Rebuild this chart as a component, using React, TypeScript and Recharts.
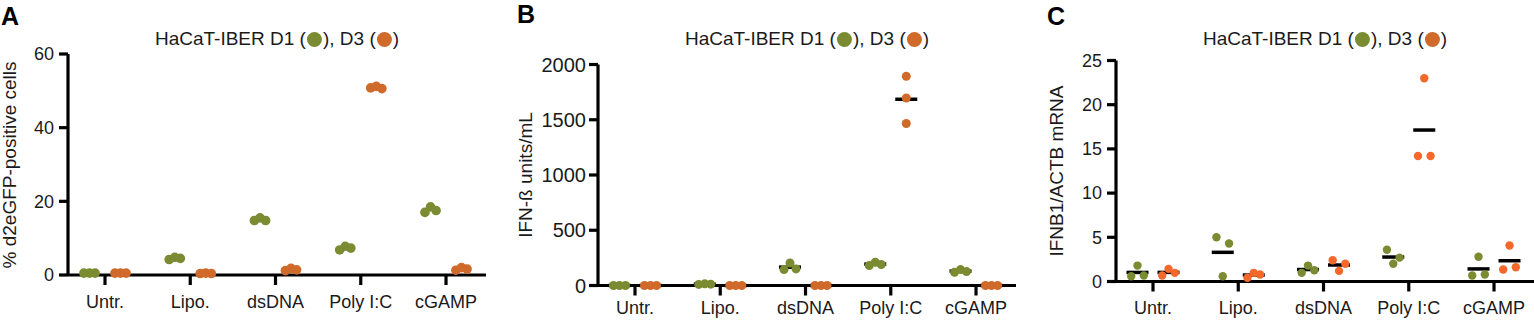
import React from 'react'
import { ScatterChart, Scatter, XAxis, YAxis, ReferenceLine } from 'recharts'

const FONT = '"Liberation Sans", Arial, Helvetica, sans-serif'
const GREEN = '#7b8b32'
const ORANGE = '#cf6a2b'
const ORANGE_C = '#f4692b'
const INK = '#1a1a1a'

const categories = ['Untr.', 'Lipo.', 'dsDNA', 'Poly I:C', 'cGAMP']

// A: % d2eGFP-positive cells (3 replicates per treatment)
const gfpD1 = [[0.5, 0.5, 0.5], [4.2, 4.8, 4.5], [14.8, 15.5, 14.8], [6.8, 7.8, 7.3], [17.0, 18.5, 17.5]]
const gfpD3 = [[0.5, 0.5, 0.5], [0.4, 0.5, 0.4], [1.2, 1.8, 1.4], [50.8, 51.2, 50.6], [1.3, 2.0, 1.6]]
const gfpTicks = [0, 20, 40, 60]

// B: IFN-ß units/mL
const ifnD1 = [[0, 0, 0], [10, 15, 12], [144, 204, 150], [180, 210, 190], [120, 144, 126]]
const ifnD3 = [[0, 0, 0], [0, 0, 0], [0, 0, 0], [1893, 1697, 1466], [0, 0, 0]]
const ifnTicks = [0, 500, 1000, 1500, 2000]

// C: IFNB1/ACTB mRNA
const mrnaD1 = [[0.6, 1.8, 0.68], [5.0, 0.6, 4.3], [0.98, 1.8, 1.28], [3.6, 2.0, 2.7], [0.68, 2.8, 0.79]]
const mrnaD3 = [[0.68, 1.43, 0.98], [0.42, 0.98, 0.79], [2.4, 1.2, 2.0], [14.2, 23.0, 14.2], [1.36, 4.07, 1.62]]
const mrnaTicks = [0, 5, 10, 15, 20, 25]

const PLOT_W = 418
const PLOT_H = 221
const X_DOMAIN: [number, number] = [-0.434, 4.469]
const PX_PER_CAT = PLOT_W / (X_DOMAIN[1] - X_DOMAIN[0])
const DONOR_OFF = 15.5 / PX_PER_CAT
const X_TICK = 10
const Y_TICK = 9
const AXIS_W = 3.2

// spread replicates that would overlap sideways, like a small beeswarm
function spread(vals: number[], pxPerUnit: number, diam: number) {
  const parent = vals.map((_, i) => i)
  const find = (i: number): number => (parent[i] === i ? i : (parent[i] = find(parent[i])))
  for (let i = 0; i < vals.length; i++)
    for (let j = i + 1; j < vals.length; j++)
      if (Math.abs(vals[i] - vals[j]) * pxPerUnit < diam) parent[find(j)] = find(i)
  const groups: Record<number, number[]> = {}
  vals.forEach((_, i) => {
    const r = find(i)
    ;(groups[r] = groups[r] || []).push(i)
  })
  const out = vals.map(() => 0)
  Object.values(groups).forEach((g) => {
    g.forEach((idx, k) => {
      out[idx] = g.length === 2 ? (k === 0 ? -1 : 1) : k - (g.length - 1) / 2
    })
  })
  return out
}

const mean = (a: number[]) => a.reduce((s, v) => s + v, 0) / a.length

function Dot({ c }: { c: string }) {
  return (
    <span
      style={{
        display: 'inline-block',
        width: 15,
        height: 15,
        borderRadius: '50%',
        background: c,
        verticalAlign: '-2px',
        margin: '0 1px',
      }}
    />
  )
}

interface PanelProps {
  letter: string
  label: string
  d1: number[][]
  d3: number[][]
  ticks: number[]
  plotLeft: number
  plotTop: number
  yAxisW: number
  rightPad: number
  r: number
  slotPx: number
  d3Color: string
  showMean: boolean
  yFont: number
  yMargin: number
  xMargin: number
  labelX: number
}

function Panel(p: PanelProps) {
  const yMax = p.ticks[p.ticks.length - 1]
  const pxPerUnit = PLOT_H / yMax
  const slot = p.slotPx / PX_PER_CAT
  const build = (groups: number[][], off: number) =>
    groups.flatMap((vals, i) => {
      const s = spread(vals, pxPerUnit, p.r * 2)
      return vals.map((v, k) => ({ x: i + off + s[k] * slot, y: v }))
    })
  const dots1 = build(p.d1, -DONOR_OFF)
  const dots3 = build(p.d3, DONOR_OFF)
  const means = [
    ...p.d1.map((v, i) => ({ x: i - DONOR_OFF, y: mean(v) })),
    ...p.d3.map((v, i) => ({ x: i + DONOR_OFF, y: mean(v) })),
  ]
  // tick marks drawn through the chart's scales
  const xTickMarks = categories.map((_, i) => ({ x: i, y: 0 }))
  const yTickMarks = p.ticks.map((t) => ({ x: X_DOMAIN[0], y: t }))

  const left = p.plotLeft - p.yAxisW
  const width = p.yAxisW + PLOT_W + p.rightPad
  const xAxisH = 30
  const bottom = 320 - p.plotTop - PLOT_H - xAxisH
  const cx = p.plotLeft + PLOT_W / 2
  const cy = p.plotTop + PLOT_H / 2

  return (
    <>
      <div
        style={{
          position: 'absolute',
          left: left + (p.letter === 'A' ? 1 : p.letter === 'B' ? 7 : 27),
          top: p.letter === 'B' ? 2 : 4,
          fontFamily: FONT,
          fontWeight: 700,
          fontSize: 25,
          lineHeight: '25px',
          color: '#000',
        }}
      >
        {p.letter}
      </div>
      <div
        style={{
          position: 'absolute',
          left: cx,
          top: 29,
          transform: 'translateX(-50%)',
          whiteSpace: 'nowrap',
          fontFamily: FONT,
          fontSize: 19,
          lineHeight: '20px',
          color: INK,
        }}
      >
        HaCaT-IBER D1 (<Dot c={GREEN} />), D3 (<Dot c={ORANGE} />)
      </div>
      <div
        style={{
          position: 'absolute',
          left: p.labelX,
          top: cy,
          transform: 'translate(-50%, -50%) rotate(-90deg)',
          whiteSpace: 'nowrap',
          fontFamily: FONT,
          fontSize: 19,
          lineHeight: '15px',
          color: INK,
        }}
      >
        {p.label}
      </div>
      <div style={{ position: 'absolute', left, top: 0 }}>
        <ScatterChart
          width={width}
          height={320}
          margin={{ top: p.plotTop, right: p.rightPad, bottom, left: 0 }}
          style={{ overflow: 'visible' }}
        >
          <XAxis
            type="number"
            dataKey="x"
            domain={X_DOMAIN}
            ticks={[0, 1, 2, 3, 4]}
            interval={0}
            tickFormatter={(i: number) => categories[i] ?? ''}
            height={xAxisH}
            axisLine={false}
            tickLine={false}
            tickSize={X_TICK}
            tickMargin={p.xMargin}
            tick={{ fontSize: 18, fill: INK, fontFamily: FONT }}
          />
          <YAxis
            type="number"
            dataKey="y"
            domain={[0, yMax]}
            ticks={p.ticks}
            interval={0}
            width={p.yAxisW}
            axisLine={false}
            tickLine={false}
            tickSize={Y_TICK}
            tickMargin={p.yMargin}
            tick={{ fontSize: p.yFont, fill: INK, fontFamily: FONT }}
          />
          <ReferenceLine x={X_DOMAIN[0]} stroke="#000" strokeWidth={AXIS_W} ifOverflow="visible" />
          <ReferenceLine y={0} stroke="#000" strokeWidth={AXIS_W} ifOverflow="visible" />
          <Scatter
            data={xTickMarks}
            isAnimationActive={false}
            shape={(s: any) => (
              <line x1={s.cx} x2={s.cx} y1={s.cy} y2={s.cy + X_TICK} stroke="#000" strokeWidth={AXIS_W} />
            )}
          />
          <Scatter
            data={yTickMarks}
            isAnimationActive={false}
            shape={(s: any) => (
              <line x1={s.cx - Y_TICK} x2={s.cx} y1={s.cy} y2={s.cy} stroke="#000" strokeWidth={AXIS_W} />
            )}
          />
          {p.showMean && (
            <Scatter
              data={means}
              isAnimationActive={false}
              shape={(s: any) => (
                <line x1={s.cx - 11} x2={s.cx + 11} y1={s.cy} y2={s.cy} stroke="#000" strokeWidth={3.5} />
              )}
            />
          )}
          <Scatter
            data={dots1}
            isAnimationActive={false}
            shape={(s: any) => <circle cx={s.cx} cy={s.cy} r={p.r} fill={GREEN} />}
          />
          <Scatter
            data={dots3}
            isAnimationActive={false}
            shape={(s: any) => <circle cx={s.cx} cy={s.cy} r={p.r} fill={p.d3Color} />}
          />
        </ScatterChart>
      </div>
    </>
  )
}

export default function App() {
  return (
    <div
      style={{
        position: 'absolute',
        left: 0,
        top: 0,
        width: 1534,
        height: 320,
        background: '#fff',
        overflow: 'hidden',
      }}
    >
      <Panel
        letter="A"
        label="% d2eGFP-positive cells"
        d1={gfpD1}
        d3={gfpD3}
        ticks={gfpTicks}
        plotLeft={68}
        plotTop={54}
        yAxisW={68}
        rightPad={20}
        r={4.8}
        slotPx={5.6}
        d3Color={ORANGE}
        showMean={false}
        yFont={18}
        yMargin={5}
        xMargin={10}
        labelX={9}
      />
      <Panel
        letter="B"
        label="IFN-ß units/mL"
        d1={ifnD1}
        d3={ifnD3}
        ticks={ifnTicks}
        plotLeft={598}
        plotTop={64.5}
        yAxisW={88}
        rightPad={20}
        r={4.5}
        slotPx={6}
        d3Color={ORANGE}
        showMean={true}
        yFont={20}
        yMargin={3}
        xMargin={6}
        labelX={525}
      />
      <Panel
        letter="C"
        label="IFNB1/ACTB mRNA"
        d1={mrnaD1}
        d3={mrnaD3}
        ticks={mrnaTicks}
        plotLeft={1116}
        plotTop={60.5}
        yAxisW={96}
        rightPad={0}
        r={4.2}
        slotPx={6.3}
        d3Color={ORANGE_C}
        showMean={true}
        yFont={18}
        yMargin={5}
        xMargin={10}
        labelX={1056}
      />
    </div>
  )
}
